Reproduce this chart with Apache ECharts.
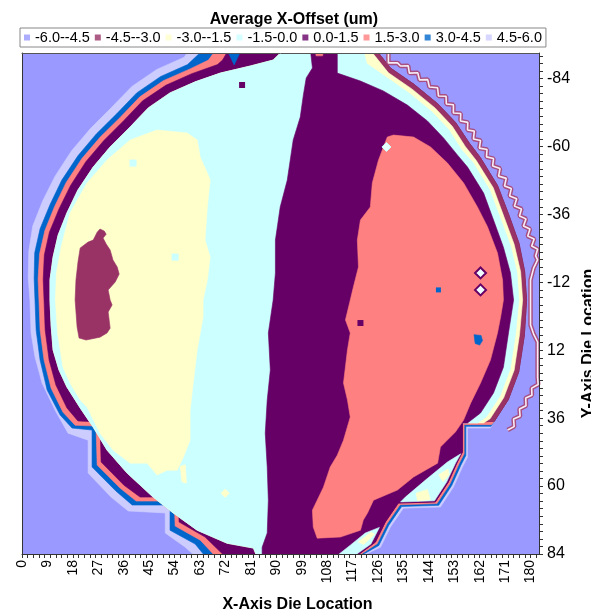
<!DOCTYPE html>
<html>
<head>
<meta charset="utf-8">
<script src="https://cdn.jsdelivr.net/npm/echarts@6/dist/echarts.min.js"></script>
<style>
  html, body { margin: 0; padding: 0; background: #fff; }
  #chart { width: 591px; height: 614px; }
</style>
</head>
<body>
<div id="chart"></div>
<script>
const FONT = 'Liberation Sans, Arial, sans-serif'

// legend bands (um)
const bandNames = ['-6.0--4.5', '-4.5--3.0', '-3.0--1.5', '-1.5-0.0', '0.0-1.5', '1.5-3.0', '3.0-4.5', '4.5-6.0']
const bandColors = ['#9999FF', '#993366', '#FFFFCC', '#CCFFFF', '#660066', '#FF8080', '#0066CC', '#CCCCFF']

const xTickLabels = [0, 9, 18, 27, 36, 45, 54, 63, 72, 81, 90, 99, 108, 117, 126, 135, 144, 153, 162, 171, 180]
const yTickLabels = [-84, -60, -36, -12, 12, 36, 60, 84]

// contour outlines, [x die, y die]
const outerLeft = [[59, -94], [57.4, -91.5], [47.7, -87.2], [38.9, -81.2], [31.5, -73.6], [24.3, -66.4], [17.5, -58.4], [11.7, -49.5], [7.3, -40.7], [3.8, -31.9], [2.4, -22.9], [2.2, -13.6], [2.8, -5.7], [3.2, 5.9], [4.6, 14.4], [7.1, 23.6], [11.7, 33.2], [16.3, 41.3], [23.4, 43.8], [23.4, 55.4], [31.5, 63.9], [37.6, 68.8], [50.7, 69.5], [50.7, 76.6], [57.8, 81.6], [61.5, 85]]
const blueLeft = [[64, -94], [58.6, -88.9], [49.1, -84.7], [40.6, -78.9], [33.6, -71.6], [26.3, -64.4], [19.8, -56.7], [14.1, -48.1], [9.9, -39.4], [6.4, -30.9], [4.5, -22.4], [4.3, -13.4], [4.6, -5.7], [5.0, 4.9], [6.4, 15.5], [8.9, 26.1], [13.5, 34.9], [17.7, 39.5], [24.8, 40.2], [24.8, 53.3], [33.3, 61.8], [39.0, 66.7], [52.4, 66.7], [52.4, 75.6], [61.3, 80.5], [65, 85]]
const salmonLeft = [[68.5, -94], [66, -90.5], [59.3, -87.3], [50, -83.2], [41.7, -77.5], [34.8, -70.3], [27.6, -63.2], [21.2, -55.7], [15.6, -47.2], [11.5, -38.7], [8.1, -30.3], [6.2, -22.0], [5.7, -13.2], [6.0, -5.7], [6.4, 4.9], [7.8, 15.5], [10.3, 25.4], [14.5, 33.9], [18.8, 38.5], [26.2, 38.8], [26.6, 52.6], [34.7, 60.7], [40.4, 65.3], [53.9, 65.3], [54.2, 74.1], [63.1, 79.1], [68.6, 85]]
const purpleLeft = [[73, -94], [71, -90.5], [69.2, -88.9], [60.1, -85.7], [50.9, -81.6], [42.7, -76.1], [36.0, -69.1], [28.9, -62.0], [22.6, -54.6], [17.2, -46.2], [13.1, -37.9], [9.7, -29.7], [7.9, -21.6], [7.5, -13.0], [7.8, -5.7], [8.2, 4.9], [9.6, 15.5], [12.0, 24.3], [15.9, 32.4], [19.8, 37.0], [27.6, 37.4], [28.0, 51.5], [36.1, 59.7], [41.8, 63.9], [55.3, 63.9], [55.6, 72.7], [64.8, 78.0], [72, 85]]

const edgeOuter = [[119.8, 85], [126.9, 81.6], [130.4, 74.5], [135, 67.8], [148.1, 67.4], [152.7, 60.4], [155.9, 53.3], [157.7, 49.8], [157.7, 39.5], [165.8, 39.5]]
const edgeBlue = [[119.2, 85], [126.3, 81.0], [129.8, 73.9], [134.4, 67.2], [147.5, 66.8], [152.1, 59.8], [155.3, 52.7], [157.1, 49.2], [157.1, 38.9], [166, 38.9]]
const edgeSalmon = [[118.6, 85], [125.7, 80.4], [129.2, 73.3], [133.8, 66.6], [146.9, 66.2], [151.5, 59.2], [154.7, 52.1], [156.5, 48.6], [156.5, 38.3], [166.2, 38.3]]
const edgePurple = [[118, 85], [125.1, 79.8], [128.6, 72.7], [133.2, 66.0], [146.3, 65.6], [150.9, 58.6], [154.1, 51.5], [155.9, 48.0], [155.9, 37.7]]

const maroonRight = [[167.2, 37.1], [172.1, 29.5], [175.8, 19.7], [177.8, 6.8], [178.6, -5.7], [177.9, -15.9], [175.9, -25.8], [172.2, -36.1], [168.3, -46.2], [162.2, -56.1], [158.3, -61.2], [153.5, -68.4], [147.2, -75.0], [138.8, -81.9], [130.4, -87.7], [125.4, -94]]
const yellowRight = [[163.4, 37.7], [165.7, 36.2], [170.5, 28.8], [174.2, 19.1], [176.1, 6.5], [177.2, -5.7], [176.5, -15.7], [174.2, -25.4], [170.5, -35.4], [166.8, -45.4], [160.8, -55.0], [156.9, -60.0], [152.3, -67.1], [146.2, -73.6], [138, -80.3], [129.7, -86.0], [123.3, -94]]
const cyanRight = [[161.3, 37.7], [164.4, 35.5], [169.2, 28.2], [172.8, 18.7], [174.7, 6.3], [175.9, -5.7], [175.2, -15.5], [172.9, -25.0], [169.2, -34.9], [165.5, -44.7], [159.7, -54.2], [155.6, -58.8], [151.1, -65.9], [145.1, -72.2], [137.1, -78.8], [129, -84.4], [122, -89.3], [120.8, -94]]
const cyanLeft = [[92.5, -94], [88.9, -90.5], [80.8, -88.4], [70.2, -85.9], [61.3, -82.8], [52.4, -78.9], [44.7, -73.6], [38.3, -66.9], [31.2, -59.8], [25.2, -52.7], [19.8, -44.6], [15.9, -36.5], [12.8, -28.7], [11.0, -20.9], [9.9, -12.8], [9.9, -5.7], [10.3, 3.1], [11.0, 11.9], [13.1, 19.0], [15.9, 25.0], [20.6, 32.4], [25.2, 39.2], [30.1, 47.3], [37.2, 55.4], [46.4, 63.9], [53.5, 69.5], [62.0, 75.6], [72.6, 80.2], [81.9, 81.9], [83.2, 85], [86, 85], [110, 60], [150, 45], [155, 37.7]]

const bandLeft = [[102.1, -94], [102.8, -87.7], [100.6, -84.2], [99.6, -78.2], [98.5, -70.4], [96.0, -62.3], [93.9, -48.1], [91.4, -38.6], [89.7, -26.9], [89.7, -15.3], [88.9, -5.7], [87.2, 5.9], [87.9, 19.0], [86.8, 29.6], [86.1, 41.3], [86.8, 53.3], [87.2, 65.0], [86.8, 76.6], [85.0, 81.6], [85.0, 85]]
const bandRight = [[157.7, 37.7], [162.3, 34.2], [166.9, 27.1], [170.4, 18.0], [172.2, 5.9], [174, -5.7], [172.9, -15.3], [170.4, -24.4], [166.9, -34.0], [163.4, -43.5], [157.7, -52.7], [154.1, -57.0], [149.2, -63.0], [143.5, -69.0], [136.4, -74.6], [127.9, -79.6], [119.8, -83.1], [111.6, -85.9], [111.6, -94]]

const salmonLobe = [[129.3, -63.3], [131.5, -64.0], [138.6, -63.3], [144.6, -59.8], [150.6, -54.1], [156.3, -47.1], [161.2, -38.6], [164.8, -31.5], [168.3, -22.3], [170.1, -12.8], [170.4, -5.7], [169.4, 0.3], [168.3, 5.9], [165.8, 15.5], [162.3, 23.6], [158.8, 30.7], [156.3, 36.7], [153.4, 40.9], [148.1, 46.2], [147.1, 51.9], [138.6, 56.8], [132.9, 61.4], [124.4, 65.0], [122.3, 69.5], [120.8, 72.0], [119.8, 75.6], [112.7, 78.0], [104.5, 78.4], [103.1, 74.5], [102.8, 68.5], [106.7, 60.4], [109.1, 53.3], [111.6, 49.1], [113.8, 43.8], [116.2, 35.6], [115.2, 29.6], [113.8, 23.6], [115.2, 11.9], [116.2, 5.9], [114.5, 1.3], [116.2, -5.7], [117.3, -10.3], [119.1, -17.4], [118.7, -26.9], [119.8, -34.0], [123.3, -38.6], [124.0, -47.1], [126.2, -55.2]]
const yellowLobe = [[47.8, -65.8], [58.5, -64.7], [62, -62.3], [63.1, -56.2], [65.6, -50.6], [66.6, -48.1], [65.6, -38.6], [64.8, -26.9], [66.6, -20.9], [65.6, -12.8], [64.1, -5.7], [64.1, 0.3], [62.0, 11.9], [60.6, 23.6], [59.5, 33.2], [59.5, 43.8], [57.1, 49.8], [54.9, 54.4], [51.4, 54.4], [47.8, 56.1], [44.3, 51.9], [38.3, 51.9], [32.2, 47.3], [27.6, 41.3], [23.0, 32.1], [20.6, 29.6], [17.0, 23.6], [14.5, 18.0], [12.6, 6.0], [11.8, -5.7], [12.2, -15.3], [13.8, -24.4], [17.0, -36.5], [23.0, -47.1], [30.1, -55.2], [38.3, -62.3]]
const yellowFinger = [[56, 53], [57.8, 52.5], [58.2, 59], [56.6, 58.5]]
const maroonLobe = [[26.6, -29.7], [27.6, -30.8], [29.1, -30.1], [29.8, -29.0], [28.7, -27.6], [29.8, -25.5], [31.2, -23.4], [32.2, -19.9], [33.7, -17.4], [34.4, -14.9], [33.0, -12.1], [30.5, -9.3], [31.2, -5.7], [31.9, -4.0], [30.5, -1.5], [31.2, 4.2], [30.1, 5.9], [27.6, 7.4], [22.7, 8.4], [20.2, 7.7], [19.5, 3.8], [18.8, -5.7], [19.1, -12.8], [19.8, -19.1], [20.6, -24.1], [23.4, -26.2], [25.2, -26.9], [25.9, -28.3]]

const blueNotch = [[72.6, -94], [77.6, -94], [75.1, -88.8]]
const salmonTop = [[103.8, -94], [106.7, -94], [106.4, -92], [104.1, -92]]
const cyanEdge = [[155.3, 48.6], [150.6, 51.5], [142.8, 57.9], [135.7, 63.9], [134, 65.6], [141, 65.4], [146, 65.2], [150.3, 58.6], [153.5, 51.8]]
const yellowEdgeA = [[139.5, 62.5], [143.5, 61.2], [144.5, 64.8], [140, 65.2]]
const yellowEdgeB = [[147.5, 56], [150.8, 54], [151.2, 56], [149, 58.5]]
const cyanFoot = [[111, 85], [116.2, 80.9], [121.5, 76.6], [126.5, 74.6], [123.5, 80.5], [118.5, 84], [117.5, 85]]
const yellowFoot = [[119, 79.8], [123.5, 76.3], [124.8, 77], [121, 80.6]]
const blueDrop = [[160, 6.5], [162.5, 6.8], [163, 8.6], [162, 10.2], [160.4, 9.6]]

// small isolated dies
const cyanSpecks = [[39.3, -54.1], [54.2, -20.9]]
const purpleSpecks = [[77.9, -81.7], [119.8, 2.4]]
const blueSpecks = [[147.4, -9.3]]
const rimDiamonds = [[162.3, -15.3], [162.3, -9.3]]
const capDiamonds = [[129, -59.8]]
const yellowDiamonds = [[71.9, 62.5]]

// saw-tooth rim artefact on the right edge
const rimZigzag = [[129.7, -93], [129.7, -89.5], [132.9, -89.5], [134, -88.4], [136.7, -88.5], [137.1, -85.9], [140.1, -86.0], [140.7, -83.5], [143.6, -83.6], [144.2, -81.0], [147.1, -80.7], [147.4, -77.8], [150.1, -77.7], [150.2, -75.0], [152.7, -74.7], [152.7, -71.8], [155.3, -71.6], [155.2, -69.0], [157.8, -68.5], [157.7, -65.8], [160.1, -65.4], [159.8, -62.6], [162.3, -62.1], [161.9, -59.4], [164.6, -58.9], [164.4, -56.3], [166.9, -55.7], [166.6, -53.1], [169.2, -52.2], [168.7, -49.5], [171.4, -48.7], [170.8, -46.0], [173.2, -45.1], [172.6, -42.5], [175.1, -41.5], [174.3, -38.9], [176.8, -37.9], [176.1, -35.4], [178.4, -34.4], [177.5, -31.9], [179.8, -30.8], [179, -28.3], [181.3, -27.3], [180.4, -24.8], [182.5, -23.7], [181.8, -21.3], [182.5, -19.9], [181.1, -17.0], [180, -12.8], [180, -5.7], [180, 3.1], [181.1, 6.3], [182.5, 9.1], [182.5, 21.5], [182.7, 24.1], [180.4, 25.4], [180.5, 27.9], [178.3, 28.9], [178.4, 31.6], [176.1, 32.8], [176.3, 35.3], [174, 36.3], [174.2, 39.0], [171.9, 40.2]]

// painter's order: [outline, band index]
const layers = [
  [outerLeft.concat(edgeOuter, maroonRight), 7],
  [blueLeft.concat(edgeBlue, maroonRight), 6],
  [salmonLeft.concat(edgeSalmon, maroonRight), 5],
  [purpleLeft.concat(edgePurple, maroonRight), 4],
  [blueNotch, 6],
  [cyanLeft.concat(maroonRight), 1],
  [cyanLeft.concat(yellowRight), 2],
  [cyanLeft.concat(cyanRight), 3],
  [bandLeft.concat(edgePurple, bandRight), 4],
  [salmonTop, 5],
  [salmonLobe, 5],
  [yellowLobe, 2],
  [yellowFinger, 2],
  [maroonLobe, 1],
  [cyanEdge, 3],
  [yellowEdgeA, 2],
  [yellowEdgeB, 2],
  [cyanFoot, 3],
  [yellowFoot, 2],
  [blueDrop, 6]
]

const xTicks = []
for (let v = 0; v <= 182; v += 2) xTicks.push(v)
const yTicks = []
for (let k = 0; k <= 66; k++) yTicks.push(+(-92 + k * 8 / 3).toFixed(3))

const chart = echarts.init(document.getElementById('chart'))

const legendSeries = bandNames.map((n, i) => ({
  name: n, type: 'scatter', data: [], itemStyle: { color: bandColors[i] }
}))

const speck = (data, color, symbol, size, border) => ({
  type: 'scatter', data: data, symbol: symbol, symbolSize: size, silent: true, z: 4,
  itemStyle: { color: color, borderColor: border ? border[0] : color, borderWidth: border ? border[1] : 0, opacity: 1 }
})

chart.setOption({
  animation: false,
  title: {
    text: 'Average X-Offset (um)', left: 289, top: 7, textAlign: 'center',
    textStyle: { fontFamily: FONT, fontSize: 16, fontWeight: 'bold', color: '#000' }
  },
  legend: {
    data: bandNames, icon: 'rect', itemWidth: 6, itemHeight: 6, itemGap: 5,
    left: 20, top: 28, padding: [2, 4], borderColor: '#888', borderWidth: 1,
    textStyle: { fontFamily: FONT, fontSize: 14.5, color: '#000' },
    selectedMode: false
  },
  grid: {
    left: 22, right: 52, top: 53, bottom: 60, outerBoundsMode: 'none', containLabel: false,
    show: true, backgroundColor: '#9999FF', borderWidth: 0
  },
  xAxis: [{
    type: 'value', position: 'bottom', min: 0, max: 183, z: 10,
    splitLine: { show: false },
    axisLine: { show: true, onZero: false, lineStyle: { color: '#333' } },
    axisTick: { show: true, length: 4, customValues: xTicks, lineStyle: { color: '#333' } },
    axisLabel: { customValues: xTickLabels, rotate: 90, margin: 6, fontFamily: FONT, fontSize: 14, color: '#000' },
    name: 'X-Axis Die Location', nameLocation: 'middle', nameGap: 43,
    nameTextStyle: { fontFamily: FONT, fontSize: 16, fontWeight: 'bold', color: '#000', padding: [0, 0, 0, 34] }
  }, {
    type: 'value', position: 'top', min: 0, max: 183, z: 10,
    splitLine: { show: false }, axisTick: { show: false }, axisLabel: { show: false },
    axisLine: { show: true, onZero: false, lineStyle: { color: '#555' } }
  }],
  yAxis: [{
    type: 'value', position: 'right', inverse: true, min: -93, max: 84, z: 10,
    splitLine: { show: false },
    axisLine: { show: true, onZero: false, lineStyle: { color: '#333' } },
    axisTick: { show: true, length: 4, customValues: yTicks, lineStyle: { color: '#333' } },
    axisLabel: { customValues: yTickLabels, margin: 8, fontFamily: FONT, fontSize: 16, color: '#000' },
    name: 'Y-Axis Die Location', nameLocation: 'middle', nameGap: 41, nameRotate: 90,
    nameTextStyle: { fontFamily: FONT, fontSize: 16, fontWeight: 'bold', color: '#000', padding: [0, 80, 0, 0] }
  }, {
    type: 'value', position: 'left', inverse: true, min: -93, max: 84, z: 10,
    splitLine: { show: false }, axisTick: { show: false }, axisLabel: { show: false },
    axisLine: { show: true, onZero: false, lineStyle: { color: '#333' } }
  }],
  series: [
    {
      type: 'custom', name: 'map', coordinateSystem: 'cartesian2d', clip: true, silent: true, z: 2,
      data: layers.map((l, i) => [l[0][0][0], l[0][0][1], i]),
      encode: { x: 0, y: 1 },
      renderItem: function (params, api) {
        const layer = layers[params.dataIndex]
        const color = bandColors[layer[1]]
        return {
          type: 'polygon',
          shape: { points: layer[0].map(p => api.coord(p)) },
          style: { fill: color, stroke: color, lineWidth: 0.6 }
        }
      }
    },
    speck(cyanSpecks, '#CCFFFF', 'rect', 7),
    speck(purpleSpecks, '#660066', 'rect', 6),
    speck(blueSpecks, '#0066CC', 'rect', 5),
    speck(rimDiamonds, '#EFFFFF', 'diamond', 11, ['#660066', 2]),
    speck(capDiamonds, '#E8FFFF', 'diamond', 9, ['#CCFFFF', 1]),
    speck(yellowDiamonds, '#FFFFCC', 'diamond', 9),
    {
      type: 'line', data: rimZigzag, symbol: 'none', silent: true, z: 3,
      lineStyle: { color: '#A84E80', width: 4.5 }
    },
    {
      type: 'line', data: rimZigzag, symbol: 'none', silent: true, z: 3,
      lineStyle: { color: '#F6EEF6', width: 1.6 }
    }
  ].concat(legendSeries)
})
</script>
</body>
</html>
